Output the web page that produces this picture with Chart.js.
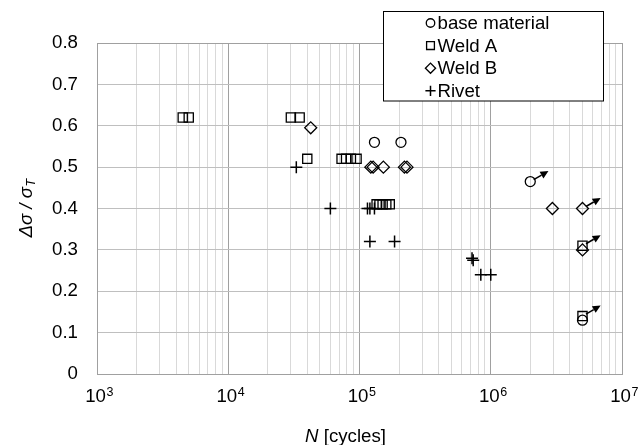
<!DOCTYPE html>
<html>
<head>
<meta charset="utf-8">
<script src="https://cdn.jsdelivr.net/npm/chart.js@4.4.1/dist/chart.umd.min.js"></script>
<style>
  html, body { margin: 0; padding: 0; background: #fff; }
  #chart { display: block; }
</style>
</head>
<body>
<canvas id="chart" width="643" height="445"></canvas>
<script>
// S-N data, N in cycles, stress range ratio d_sigma / sigma_T
const baseN = [1.3e5, 2.07e5, 2.0e6, 5.0e6];
const baseS = [0.56, 0.56, 0.465, 0.13];

const weldAN = [4.5e3, 5.0e3, 3.0e4, 3.5e4, 4.0e4, 7.3e4, 7.9e4, 8.6e4, 9.5e4, 1.35e5, 1.42e5, 1.5e5, 1.6e5, 1.7e5, 5.0e6, 5.0e6];
const weldAS = [0.62, 0.62, 0.62, 0.62, 0.52, 0.52, 0.52, 0.52, 0.52, 0.41, 0.41, 0.41, 0.41, 0.41, 0.31, 0.14];

const weldBN = [4.25e4, 1.22e5, 1.27e5, 1.52e5, 2.2e5, 2.3e5, 2.95e6, 5.0e6, 5.0e6];
const weldBS = [0.595, 0.5, 0.5, 0.5, 0.5, 0.5, 0.4, 0.4, 0.3];

const rivetN = [3.3e4, 6.0e4, 1.15e5, 1.2e5, 1.3e5, 1.2e5, 1.85e5, 7.2e5, 7.35e5, 8.4e5, 1.0e6];
const rivetS = [0.5, 0.4, 0.4, 0.4, 0.4, 0.32, 0.32, 0.28, 0.275, 0.24, 0.24];

// run-outs (index into the series above), drawn with an arrow
const baseRunout = [2];
const weldARunout = [14, 15];
const weldBRunout = [7];

const xDecades = [3, 4, 5, 6, 7];
const seriesNames = ['base material', 'Weld A', 'Weld B', 'Rivet'];

const FONT = '"Liberation Sans", Arial, sans-serif';
const INK = '#000';

const toPoints = (xs, ys) => xs.map((x, i) => ({ x: x, y: ys[i] }));

// same shapes as Chart.js draws them, for the legend box
function drawMarker(ctx, style, x, y, r) {
  ctx.beginPath();
  if (style === 'circle') {
    ctx.arc(x, y, r, 0, Math.PI * 2);
  } else if (style === 'rect') {
    const s = r * Math.SQRT1_2;
    ctx.rect(x - s, y - s, 2 * s, 2 * s);
  } else if (style === 'rectRot') {
    ctx.moveTo(x - r, y); ctx.lineTo(x, y - r); ctx.lineTo(x + r, y); ctx.lineTo(x, y + r); ctx.closePath();
  } else if (style === 'cross') {
    ctx.moveTo(x - r, y); ctx.lineTo(x + r, y); ctx.moveTo(x, y - r); ctx.lineTo(x, y + r);
  }
  ctx.stroke();
}

function drawArrow(ctx, x, y) {
  const a = -30 * Math.PI / 180;
  const x0 = x + 4 * Math.cos(a), y0 = y + 4 * Math.sin(a);
  const x1 = x + 21 * Math.cos(a), y1 = y + 21 * Math.sin(a);
  const hl = 8, hw = 3.8;
  const bx = x1 - hl * Math.cos(a), by = y1 - hl * Math.sin(a);
  ctx.save();
  ctx.strokeStyle = INK;
  ctx.fillStyle = INK;
  ctx.lineWidth = 1.5;
  ctx.beginPath();
  ctx.moveTo(x0, y0);
  ctx.lineTo(bx, by);
  ctx.stroke();
  ctx.beginPath();
  ctx.moveTo(x1, y1);
  ctx.lineTo(bx + hw * Math.sin(a), by - hw * Math.cos(a));
  ctx.lineTo(bx - hw * Math.sin(a), by + hw * Math.cos(a));
  ctx.closePath();
  ctx.fill();
  ctx.restore();
}

const runoutArrows = {
  id: 'runoutArrows',
  afterDatasetsDraw(chart) {
    chart.data.datasets.forEach((ds, i) => {
      const meta = chart.getDatasetMeta(i);
      (ds.runout || []).forEach(idx => {
        const p = meta.data[idx];
        if (p) drawArrow(chart.ctx, p.x, p.y);
      });
    });
  }
};

const axisText = {
  id: 'axisText',
  afterDraw(chart) {
    const ctx = chart.ctx;
    const xs = chart.scales.x;
    const area = chart.chartArea;
    ctx.save();
    ctx.fillStyle = INK;
    ctx.textBaseline = 'alphabetic';
    ctx.textAlign = 'left';

    // 10^n tick labels
    xDecades.forEach(e => {
      const px = xs.getPixelForValue(Math.pow(10, e));
      ctx.font = '18.67px ' + FONT;
      const w10 = ctx.measureText('10').width;
      ctx.font = '12.5px ' + FONT;
      const we = ctx.measureText(String(e)).width;
      const left = px - (w10 + we) / 2 + 2;
      ctx.font = '18.67px ' + FONT;
      ctx.fillText('10', left, 401.5);
      ctx.font = '12.5px ' + FONT;
      ctx.fillText(String(e), left + w10 + 0.5, 396);
    });

    // x title: N [cycles], sits a little left of the plot centre
    ctx.font = 'italic 18.67px ' + FONT;
    const wN = ctx.measureText('N').width;
    ctx.font = '18.67px ' + FONT;
    const wRest = ctx.measureText(' [cycles]').width;
    const cx = (area.left + area.right) / 2 - 14;
    let tx = cx - (wN + wRest) / 2;
    ctx.font = 'italic 18.67px ' + FONT;
    ctx.fillText('N', tx, 441.5);
    ctx.font = '18.67px ' + FONT;
    ctx.fillText(' [cycles]', tx + wN, 441.5);

    // y title: Δσ / σT (rotated)
    const cy = (area.top + area.bottom) / 2;
    ctx.translate(31.5, cy);
    ctx.rotate(-Math.PI / 2);
    ctx.font = 'italic 18.67px ' + FONT;
    const main = 'Δσ / σ';
    const wm = ctx.measureText(main).width;
    ctx.font = 'italic 12.5px ' + FONT;
    const wt = ctx.measureText('T').width;
    const sx = -(wm + wt) / 2;
    ctx.font = 'italic 18.67px ' + FONT;
    ctx.fillText(main, sx, 0);
    ctx.font = 'italic 12.5px ' + FONT;
    ctx.fillText('T', sx + wm + 0.5, 3.5);
    ctx.restore();
  }
};

const boxLegend = {
  id: 'boxLegend',
  afterDraw(chart) {
    const ctx = chart.ctx;
    const bx = 383.5, by = 11.5, bw = 220, bh = 89.5;
    ctx.save();
    ctx.fillStyle = '#fff';
    ctx.fillRect(bx, by, bw, bh);
    ctx.strokeStyle = INK;
    ctx.lineWidth = 1;
    ctx.strokeRect(bx, by, bw, bh);
    ctx.font = '18.67px ' + FONT;
    ctx.textBaseline = 'middle';
    ctx.textAlign = 'left';
    chart.data.datasets.forEach((ds, i) => {
      const y = by + 11.5 + i * 22.6;
      ctx.strokeStyle = INK;
      ctx.lineWidth = ds.borderWidth;
      drawMarker(ctx, ds.pointStyle, 430.5, y, ds.pointRadius * 0.85);
      ctx.fillStyle = INK;
      ctx.fillText(ds.label, 437.5, y + 1);
    });
    ctx.restore();
  }
};

const pointSet = (label, xs, ys, style, r, runout) => ({
  label: label,
  data: toPoints(xs, ys),
  pointStyle: style,
  pointRadius: r,
  pointHoverRadius: r,
  borderWidth: style === 'cross' ? 1.5 : 1.3,
  borderColor: INK,
  backgroundColor: 'rgba(0,0,0,0)',
  showLine: false,
  runout: runout
});

new Chart(document.getElementById('chart'), {
  type: 'scatter',
  data: {
    datasets: [
      pointSet(seriesNames[0], baseN, baseS, 'circle', 5, baseRunout),
      pointSet(seriesNames[1], weldAN, weldAS, 'rect', 6.5, weldARunout),
      pointSet(seriesNames[2], weldBN, weldBS, 'rectRot', 6, weldBRunout),
      pointSet(seriesNames[3], rivetN, rivetS, 'cross', 6, [])
    ]
  },
  options: {
    responsive: false,
    animation: false,
    events: [],
    layout: { padding: { top: 43, right: 21, left: 0, bottom: 0 } },
    plugins: {
      legend: { display: false },
      tooltip: { enabled: false }
    },
    scales: {
      x: {
        type: 'logarithmic',
        min: 1e3,
        max: 1e7,
        afterBuildTicks: scale => {
          const ticks = [];
          for (let e = xDecades[0]; e < xDecades[xDecades.length - 1]; e++) {
            for (let m = 1; m <= 9; m++) ticks.push({ value: m * Math.pow(10, e) });
          }
          ticks.push({ value: Math.pow(10, xDecades[xDecades.length - 1]) });
          scale.ticks = ticks;
        },
        afterFit: scale => { scale.height = 71; },
        ticks: { display: false },
        grid: {
          drawTicks: false,
          lineWidth: 1,
          color: ctx => {
            const v = ctx.tick ? ctx.tick.value : 0;
            const lg = Math.log10(v);
            return Math.abs(lg - Math.round(lg)) < 1e-9 ? '#a0a0a0' : '#d9d9d9';
          }
        },
        border: { color: '#a0a0a0', width: 1 }
      },
      y: {
        min: 0,
        max: 0.8,
        afterFit: scale => { scale.width = 97; },
        ticks: {
          stepSize: 0.1,
          padding: 19,
          color: INK,
          font: { family: FONT, size: 18.67 }
        },
        grid: {
          drawTicks: false,
          color: ctx => (ctx.tick && ctx.tick.value >= 0.8 - 1e-9) ? '#a0a0a0' : '#bfbfbf',
          lineWidth: 1
        },
        border: { color: '#a0a0a0', width: 1 }
      }
    }
  },
  plugins: [runoutArrows, axisText, boxLegend]
});
</script>
</body>
</html>
